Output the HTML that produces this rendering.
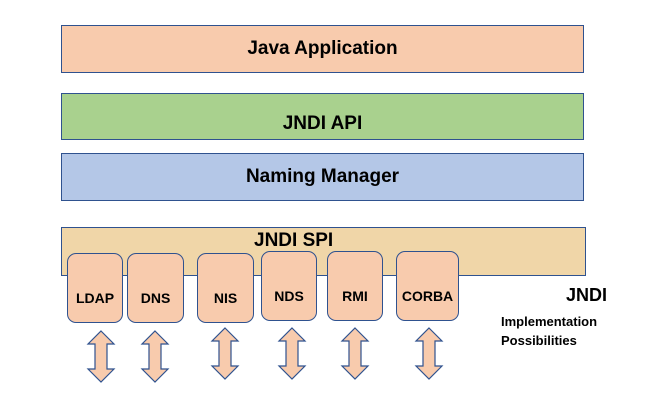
<!DOCTYPE html>
<html><head><meta charset="utf-8"><style>
body{margin:0;width:656px;height:408px;background:#fff;position:relative;overflow:hidden;font-family:"Liberation Sans",sans-serif;font-weight:bold;color:#000}
.b{position:absolute;box-sizing:border-box;border:1.3px solid #2F528F;display:flex;align-items:center;justify-content:center}
.s{border-radius:9px;background:#F8CBAD;font-size:14px;padding-top:20px}
.t{position:absolute;white-space:nowrap}
</style></head><body>
<div class="b" style="left:61px;top:25px;width:523px;height:48px;background:#F8CBAD;font-size:19px">Java Application</div>
<div class="b" style="left:61px;top:93px;width:523px;height:47px;background:#A9D18E;font-size:19px;padding-top:14px">JNDI API</div>
<div class="b" style="left:61px;top:153px;width:523px;height:48px;background:#B4C7E7;font-size:19px">Naming Manager</div>
<div class="b" style="left:61px;top:227px;width:525px;height:49px;background:#F0D6A8;font-size:19px"><span style="position:absolute;left:192px;top:2px">JNDI SPI</span></div>
<div class="b s" style="left:67px;top:253px;width:56px;height:70px">LDAP</div>
<div class="b s" style="left:127px;top:253px;width:57px;height:70px">DNS</div>
<div class="b s" style="left:197px;top:253px;width:57px;height:70px">NIS</div>
<div class="b s" style="left:261px;top:251px;width:56px;height:70px">NDS</div>
<div class="b s" style="left:327px;top:251px;width:56px;height:70px">RMI</div>
<div class="b s" style="left:396px;top:251px;width:63px;height:70px">CORBA</div>
<div class="t" style="left:566px;top:285px;font-size:18px">JNDI</div>
<div class="t" style="left:501px;top:314px;font-size:13px">Implementation</div>
<div class="t" style="left:501px;top:333px;font-size:13px">Possibilities</div>
<svg width="656" height="408" style="position:absolute;left:0;top:0">
<defs><path id="a" d="M0,0 L13,13 L6,13 L6,38 L13,38 L0,51 L-13,38 L-6,38 L-6,13 L-13,13 Z" fill="#F8CBAD" stroke="#2F528F" stroke-width="1.2"/></defs>
<use href="#a" x="101" y="331"/>
<use href="#a" x="155" y="331"/>
<use href="#a" x="225" y="328"/>
<use href="#a" x="292" y="328"/>
<use href="#a" x="355" y="328"/>
<use href="#a" x="429" y="328"/>
</svg>
</body></html>
